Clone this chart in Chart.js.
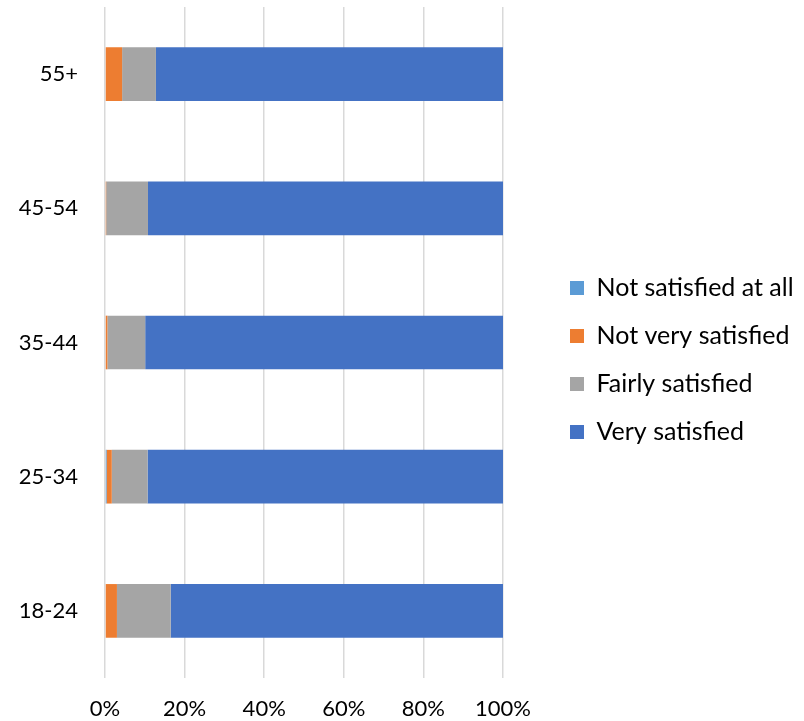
<!DOCTYPE html>
<html>
<head>
<meta charset="utf-8">
<script src="https://cdn.jsdelivr.net/npm/chart.js@4/dist/chart.umd.min.js"></script>
<style>
html,body{margin:0;padding:0;background:#fff;}
#wrap{width:804px;height:721px;position:relative;}
</style>
</head>
<body>
<div id="wrap"><canvas id="c" width="804" height="721"></canvas></div>
<script>
const categories = ['18-24', '25-34', '35-44', '45-54', '55+'];
const seriesNames = ['Not satisfied at all', 'Not very satisfied', 'Fairly satisfied', 'Very satisfied'];
const notSatisfiedAtAll = [0, 0.4, 0, 0, 0];
const notVerySatisfied = [3.0, 1.3, 0.6, 0.3, 4.3];
const fairlySatisfied = [13.5, 9.0, 9.5, 10.5, 8.5];
const verySatisfied = [83.5, 89.3, 89.9, 89.2, 87.2];
const xTicks = [0, 20, 40, 60, 80, 100];
const seriesColors = ['#5B9BD5', '#ED7D31', '#A5A5A5', '#4472C4'];

const FONT = 'Lato, "Open Sans", sans-serif';
Chart.defaults.font.family = FONT;
Chart.defaults.color = '#000';

const legendPlace = {
  id: 'legendPlace',
  beforeInit(chart) {
    const lg = chart.legend;
    const orig = lg.fit;
    lg.fit = function () {
      orig.call(this);
      this.width = 804 - 503;
    };
  },
  afterLayout(chart) {
    const lg = chart.legend;
    const dx = 547 - lg.left;
    lg.left += dx;
    lg.right += dx;
    lg.top -= 4;
    lg.bottom -= 4;
  }
};

new Chart(document.getElementById('c'), {
  type: 'bar',
  data: {
    labels: categories,
    datasets: [notSatisfiedAtAll, notVerySatisfied, fairlySatisfied, verySatisfied].map((d, i) => ({
      label: seriesNames[i],
      data: d,
      backgroundColor: seriesColors[i],
      borderWidth: 0,
      categoryPercentage: 0.8,
      barPercentage: 0.5
    }))
  },
  options: {
    indexAxis: 'y',
    responsive: false,
    animation: false,
    layout: { padding: { top: 7, right: 0, bottom: 0, left: 0 } },
    scales: {
      x: {
        stacked: true,
        min: 0,
        max: 100,
        afterBuildTicks(scale) { scale.ticks = xTicks.map(v => ({ value: v })); },
        afterFit(scale) { scale.height = 43; scale.paddingTop = 0; scale.paddingBottom = 0; },
        ticks: { callback: v => v + '%', font: { size: 22 }, padding: 18, color: '#000', maxRotation: 0 },
        grid: { color: '#D9D9D9', lineWidth: 1.5, drawTicks: false },
        border: { display: false }
      },
      y: {
        stacked: true,
        reverse: true,
        afterFit(scale) { scale.width = 105; scale.paddingTop = 0; scale.paddingBottom = 0; },
        ticks: { font: { size: 22 }, padding: 27, color: '#000' },
        grid: { display: false, drawTicks: false },
        border: { display: false }
      }
    },
    plugins: {
      legend: {
        position: 'right',
        labels: { boxWidth: 14, boxHeight: 14, font: { size: 25 }, padding: 23, color: '#000' }
      },
      tooltip: { enabled: false }
    }
  },
  plugins: [legendPlace]
});
</script>
</body>
</html>
